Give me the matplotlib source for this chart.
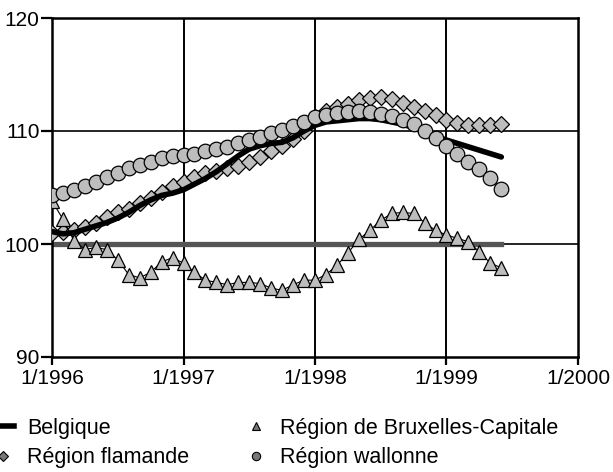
import matplotlib as mpl
mpl.use('Agg')

import matplotlib.pyplot as plt
from matplotlib.lines import Line2D
import numpy as np

plt.rcParams['font.family'] = ['Liberation Sans', 'DejaVu Sans']

# monthly index, 0 = 1/1996
months = np.arange(42)

belgique = [101.1, 100.9, 101.0, 101.3, 101.6, 101.9, 102.3, 102.8, 103.4, 103.9,
            104.3, 104.5, 104.8, 105.3, 105.8, 106.4, 107.1, 107.8, 108.4, 108.7,
            108.9, 109.0, 109.4, 110.0, 110.5, 110.8, 110.9, 111.0, 111.1, 111.1,
            111.0, 110.8, 110.6, 110.3, 109.9, 109.5, 109.2, 108.9, 108.6, 108.3,
            108.0, 107.7]

flamande = [101.0, 101.05, 101.2, 101.5, 101.9, 102.4, 102.8, 103.1, 103.6, 104.1,
            104.6, 105.1, 105.5, 105.9, 106.3, 106.5, 106.7, 106.9, 107.3, 107.7,
            108.2, 108.7, 109.3, 110.0, 111.2, 111.8, 112.1, 112.4, 112.7, 112.9,
            113.0, 112.8, 112.5, 112.1, 111.8, 111.4, 111.0, 110.7, 110.5, 110.5,
            110.5, 110.6]

bruxelles = [103.8, 102.2, 100.3, 99.5, 99.7, 99.5, 98.6, 97.3, 97.0, 97.5,
             98.4, 98.8, 98.3, 97.5, 96.8, 96.6, 96.4, 96.6, 96.6, 96.5,
             96.1, 95.9, 96.4, 96.8, 96.8, 97.3, 98.1, 99.2, 100.4, 101.2,
             102.1, 102.7, 102.8, 102.7, 101.9, 101.2, 100.8, 100.5, 100.2, 99.3,
             98.3, 97.9]

wallonne = [104.3, 104.5, 104.8, 105.1, 105.5, 105.9, 106.3, 106.7, 107.0, 107.3,
            107.6, 107.8, 107.9, 108.0, 108.2, 108.4, 108.6, 108.9, 109.2, 109.5,
            109.8, 110.1, 110.4, 110.8, 111.2, 111.4, 111.6, 111.7, 111.8, 111.7,
            111.5, 111.3, 111.0, 110.6, 110.0, 109.4, 108.7, 108.0, 107.3, 106.6,
            105.8, 104.9]

base = [100] * len(months)

tick_pos = [0, 12, 24, 36, 48]
tick_labels = ['1/1996', '1/1997', '1/1998', '1/1999', '1/2000']
y_ticks = [90, 100, 110, 120]

FILL = '#bdbdbd'

fig = plt.figure(figsize=(6.13, 4.72), dpi=100)
ax = fig.add_axes([52 / 613, 1 - 357 / 472, 526 / 613, 339 / 472])

ax.set_xlim(0, 48)
ax.set_ylim(90, 120)

# grid lines
for x in tick_pos[1:-1]:
    ax.axvline(x, color='black', lw=1.4, zorder=1)
for y in [100, 110]:
    ax.axhline(y, color='black', lw=1.2, zorder=1)

# base-100 reference
ax.plot(months, base, color='#555555', lw=3.8, zorder=2)

ax.plot(months, flamande, color='black', lw=0.8, marker='D', ms=8.5,
        mfc=FILL, mec='black', mew=0.9, zorder=3)
ax.plot(months, belgique, color='black', lw=4, solid_capstyle='round', zorder=4)
ax.plot(months, bruxelles, color='black', lw=0.8, marker='^', ms=10,
        mfc=FILL, mec='black', mew=0.9, zorder=5)
ax.plot(months, wallonne, color='black', lw=0.8, marker='o', ms=10.5,
        mfc=FILL, mec='black', mew=0.9, zorder=6)

ax.set_xticks(tick_pos)
ax.set_xticklabels(tick_labels)
ax.set_yticks(y_ticks)
ax.tick_params(axis='both', labelsize=15, width=1.6, color='black', direction='out')
ax.tick_params(axis='y', length=8, pad=1)
ax.tick_params(axis='x', length=6, pad=3)

for spine in ax.spines.values():
    spine.set_linewidth(1.8)

handles = [
    Line2D([], [], color='black', lw=4),
    Line2D([], [], ls='none', marker='D', ms=5, mfc='#777777', mec='black', mew=0.8),
    Line2D([], [], ls='none', marker='^', ms=6, mfc='#777777', mec='black', mew=0.8),
    Line2D([], [], ls='none', marker='o', ms=6, mfc='#777777', mec='black', mew=0.8),
]
labels = ['Belgique', 'Région flamande', 'Région de Bruxelles-Capitale', 'Région wallonne']

fig.legend(handles, labels, ncol=2, frameon=False, fontsize=15.5,
           loc='upper left', bbox_to_anchor=(-0.012, 1 - 418 / 472),
           handlelength=1.0, handletextpad=0.6, columnspacing=2.6,
           labelspacing=0.38, borderpad=0, borderaxespad=0)

fig.savefig('out.png', dpi=100)
plt.close()
